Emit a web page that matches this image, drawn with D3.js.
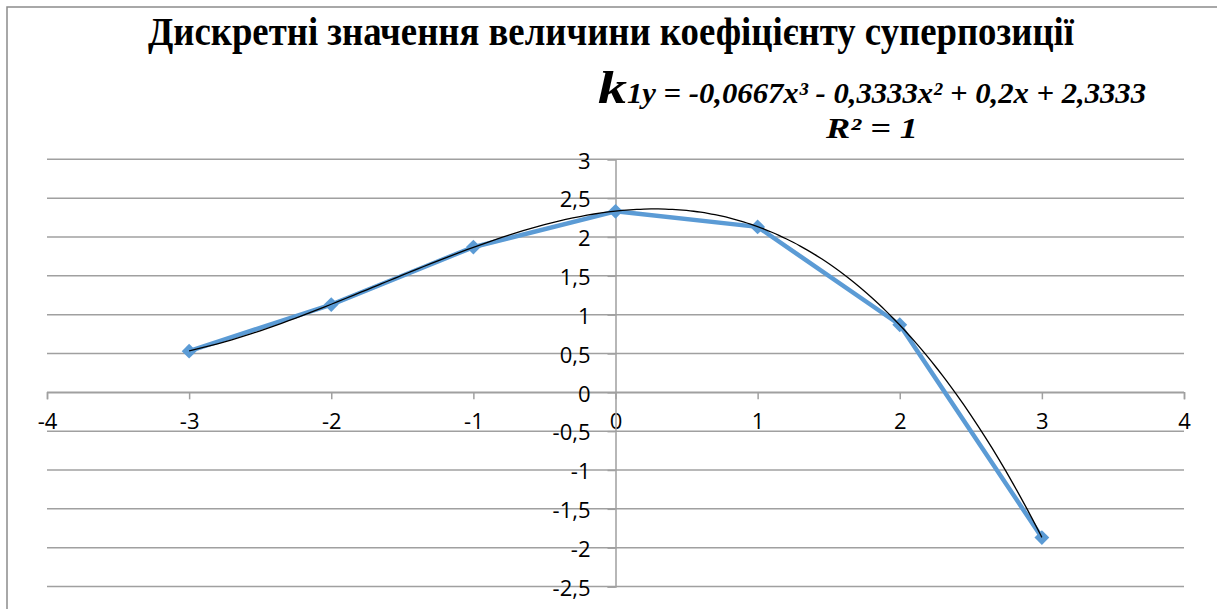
<!DOCTYPE html>
<html>
<head>
<meta charset="utf-8">
<script src="https://cdn.jsdelivr.net/npm/d3@7"></script>
<style>
  body { margin: 0; background: #fff; }
  svg { display: block; }
</style>
</head>
<body>
<svg id="chart"></svg>
<script>
// дані з графіка
var xValues = [-3, -2, -1, 0, 1, 2, 3];
var yValues = [0.53, 1.13, 1.87, 2.33, 2.13, 0.87, -1.87];
// коефіцієнти лінії тренду (поліном 3-го ступеня)
var trendCoefs = [-0.0667, -0.3333, 0.2, 2.3333];
var xTicks = [-4, -3, -2, -1, 0, 1, 2, 3, 4];
var yTicks = [3, 2.5, 2, 1.5, 1, 0.5, 0, -0.5, -1, -1.5, -2, -2.5];

var titleText = 'Дискретні значення величини коефіцієнту суперпозиції';
var eqHead = 'k';
var eqRest = '1y = -0,0667x³ - 0,3333x² + 0,2x + 2,3333';
var r2Text = 'R² = 1';

var W = 1217, H = 609;
var svg = d3.select('#chart').attr('width', W).attr('height', H);

// рамка діаграми
svg.append('rect')
  .attr('x', 7).attr('y', 7)
  .attr('width', W - 4).attr('height', H)
  .attr('fill', 'none')
  .attr('stroke', '#8c8c8c')
  .attr('stroke-width', 1.5);

var x = d3.scaleLinear().domain([-4, 4]).range([47, 1184]);
var y = d3.scaleLinear().domain([-2.5, 3]).range([586.5, 159.3]);

var fmt = function(v) { return String(v).replace('.', ','); };

// горизонтальні лінії сітки
svg.append('g').selectAll('line')
  .data(yTicks)
  .enter().append('line')
  .attr('x1', x(-4)).attr('x2', x(4))
  .attr('y1', function(d) { return y(d); })
  .attr('y2', function(d) { return y(d); })
  .attr('stroke', '#a0a0a0')
  .attr('stroke-width', 1.5);

// вісь X
var xAxis = d3.axisBottom(x).tickValues(xTicks).tickSize(7).tickFormat(fmt);
var gx = svg.append('g')
  .attr('transform', 'translate(0,' + y(0) + ')')
  .call(xAxis);
gx.attr('font-family', null).attr('font-size', null);
gx.select('.domain').attr('stroke', '#a0a0a0').attr('stroke-width', 1.5);
gx.selectAll('.tick line').attr('stroke', '#a0a0a0').attr('stroke-width', 1.5);
gx.selectAll('.tick text')
  .attr('y', 37)
  .attr('dy', 0)
  .style('font-family', '"Open Sans", sans-serif')
  .style('font-size', '22px')
  .attr('fill', '#000');

// вісь Y
var yAxis = d3.axisLeft(y).tickValues(yTicks).tickSize(8).tickFormat(fmt);
var gy = svg.append('g')
  .attr('transform', 'translate(' + x(0) + ',0)')
  .call(yAxis);
gy.attr('font-family', null).attr('font-size', null);
gy.select('.domain').attr('stroke', '#a0a0a0').attr('stroke-width', 1.5);
gy.selectAll('.tick line').attr('stroke', '#a0a0a0').attr('stroke-width', 1.5);
gy.selectAll('.tick text')
  .attr('x', -25)
  .attr('dy', '0.4em')
  .style('font-family', '"Open Sans", sans-serif')
  .style('font-size', '22px')
  .attr('fill', '#000');

// ряд даних
var pts = xValues.map(function(v, i) { return [v, yValues[i]]; });
var line = d3.line()
  .x(function(d) { return x(d[0]); })
  .y(function(d) { return y(d[1]); });

svg.append('path')
  .datum(pts)
  .attr('d', line)
  .attr('fill', 'none')
  .attr('stroke', '#5b9bd5')
  .attr('stroke-width', 4.5)
  .attr('stroke-linejoin', 'round');

svg.append('g').selectAll('path')
  .data(pts)
  .enter().append('path')
  .attr('transform', function(d) { return 'translate(' + x(d[0]) + ',' + y(d[1]) + ') rotate(45)'; })
  .attr('d', d3.symbol().type(d3.symbolSquare).size(110))
  .attr('fill', '#5b9bd5');

// лінія тренду
function poly(t) {
  return ((trendCoefs[0] * t + trendCoefs[1]) * t + trendCoefs[2]) * t + trendCoefs[3];
}
var trendPts = d3.range(-3, 3.0001, 0.05).map(function(t) { return [t, poly(t)]; });
svg.append('path')
  .datum(trendPts)
  .attr('d', line.curve(d3.curveBasis))
  .attr('fill', 'none')
  .attr('stroke', '#000')
  .attr('stroke-width', 1.3);

// заголовок
svg.append('text')
  .attr('x', 611).attr('y', 45)
  .attr('text-anchor', 'middle')
  .attr('font-family', '"Liberation Serif", "Times New Roman", serif')
  .attr('font-weight', 'bold')
  .attr('font-size', 39)
  .attr('textLength', 926)
  .attr('lengthAdjust', 'spacingAndGlyphs')
  .text(titleText);

// рівняння тренду
var eq = svg.append('text')
  .attr('x', 598).attr('y', 103)
  .attr('font-family', '"Liberation Serif", "Times New Roman", serif')
  .attr('font-weight', 'bold')
  .attr('font-style', 'italic');
eq.append('tspan').attr('font-size', 46).attr('textLength', 29).attr('lengthAdjust', 'spacingAndGlyphs').text(eqHead);
eq.append('tspan').attr('font-size', 30).attr('textLength', 519).attr('lengthAdjust', 'spacingAndGlyphs').text(eqRest);

svg.append('text')
  .attr('x', 872).attr('y', 138)
  .attr('text-anchor', 'middle')
  .attr('font-family', '"Liberation Serif", "Times New Roman", serif')
  .attr('font-weight', 'bold')
  .attr('font-style', 'italic')
  .attr('font-size', 29)
  .attr('textLength', 92)
  .attr('lengthAdjust', 'spacingAndGlyphs')
  .text(r2Text);
</script>
</body>
</html>
